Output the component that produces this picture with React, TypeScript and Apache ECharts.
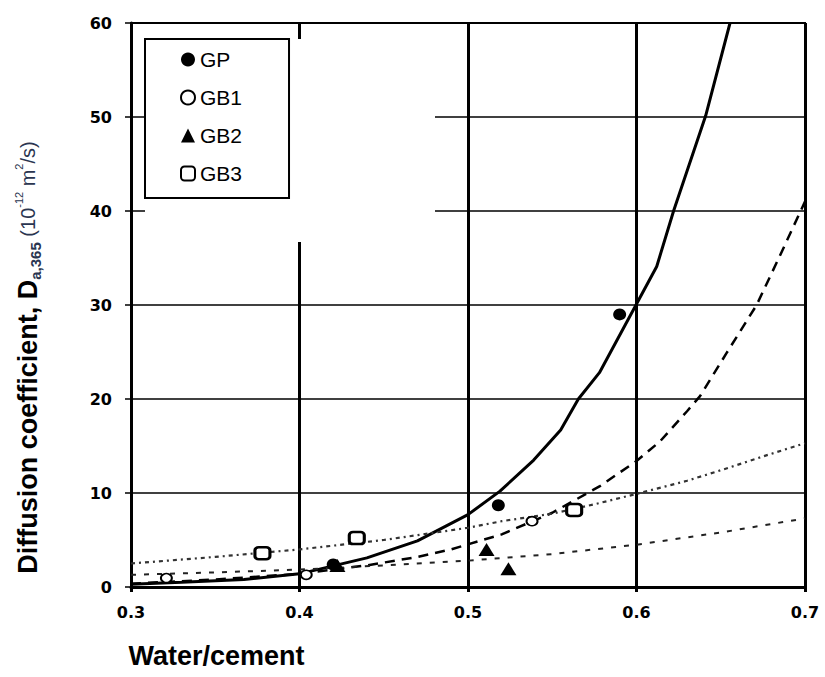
import React, { useEffect, useRef } from "react";
import * as echarts from "echarts";

// ---- Data ----
const legendNames = ["GP", "GB1", "GB2", "GB3"];

// Measured points (water/cement ratio, diffusion coefficient)
const gpPointsW = [0.42, 0.518, 0.59];
const gpPointsD = [2.4, 8.7, 29.0];
const gb1PointsW = [0.321, 0.404, 0.538];
const gb1PointsD = [0.95, 1.3, 7.0];
const gb2PointsW = [0.4225, 0.511, 0.524];
const gb2PointsD = [2.3, 4.0, 1.95];
const gb3PointsW = [0.378, 0.434, 0.563];
const gb3PointsD = [3.6, 5.2, 8.2];

// Fitted curves
const gpFitW = [0.3, 0.33, 0.367, 0.4, 0.4225, 0.44, 0.47, 0.5, 0.519, 0.539, 0.555, 0.5655, 0.578, 0.6, 0.612, 0.622, 0.641, 0.6555];
const gpFitD = [0.3, 0.5, 0.8, 1.4, 2.35, 3.1, 4.9, 7.7, 10.2, 13.5, 16.7, 20.0, 22.8, 30.1, 34.1, 40.0, 50.1, 60.0];
const gb1FitW = [0.3, 0.35, 0.4, 0.44, 0.47, 0.49, 0.52, 0.55, 0.578, 0.6, 0.614, 0.63, 0.6377, 0.6535, 0.6713, 0.685, 0.7];
const gb1FitD = [0.35, 0.8, 1.4, 2.3, 3.2, 4.0, 5.6, 7.9, 10.7, 13.4, 15.5, 18.7, 20.3, 24.9, 30.0, 35.2, 41.0];
const gb2FitW = [0.3, 0.35, 0.4, 0.45, 0.5, 0.55, 0.6, 0.65, 0.7];
const gb2FitD = [1.3, 1.55, 1.85, 2.3, 2.8, 3.5, 4.5, 5.8, 7.3];
const gb3FitW = [0.3, 0.35, 0.4, 0.45, 0.5, 0.52, 0.55, 0.575, 0.6, 0.63, 0.655, 0.677, 0.7];
const gb3FitD = [2.5, 3.2, 4.0, 5.0, 6.3, 7.0, 7.8, 8.8, 9.9, 11.3, 12.7, 14.0, 15.3];

// Axes
const xMin = 0.3;
const xMax = 0.7;
const xStep = 0.1;
const yMin = 0;
const yMax = 60;
const yStep = 10;

const xTitle = "Water/cement";

function pairs(xs: number[], ys: number[]) {
  return xs.map((x, i) => [x, ys[i]]);
}

const ARIAL = "'Liberation Sans', Arial, sans-serif";
const DEJAVU = "'DejaVu Sans', sans-serif";

export default function App() {
  const ref = useRef<HTMLDivElement>(null);

  useEffect(() => {
    if (!ref.current) return;
    const chart = echarts.init(ref.current, null, { renderer: "svg" });

    const fitLine = (name: string, w: number[], d: number[], lineStyle: any) => ({
      type: "line",
      name,
      data: pairs(w, d),
      symbol: "none",
      showSymbol: false,
      smooth: false,
      silent: true,
      z: 2,
      lineStyle,
    });

    const option: any = {
      animation: false,
      backgroundColor: "#fff",
      grid: {
        left: 131,
        top: 23,
        right: 20,
        bottom: 90,
        show: true,
        borderColor: "#000",
        borderWidth: 2,
        backgroundColor: "transparent",
      },
      xAxis: {
        type: "value",
        min: xMin,
        max: xMax,
        interval: xStep,
        name: xTitle,
        nameLocation: "middle",
        nameGap: 55,
        nameTextStyle: {
          fontFamily: ARIAL,
          fontWeight: "bold",
          fontSize: 27,
          color: "#000",
          padding: [0, 503, 0, 0],
        },
        axisLine: { show: true, onZero: false, lineStyle: { color: "#000", width: 3 } },
        axisTick: { show: true, length: 5, lineStyle: { color: "#000", width: 3 } },
        axisLabel: {
          margin: 17,
          fontFamily: DEJAVU,
          fontWeight: "bold",
          fontSize: 16,
          color: "#000",
          formatter: (v: number) => v.toFixed(1),
        },
        splitLine: { show: true, lineStyle: { color: "#000", width: 3 } },
      },
      yAxis: {
        type: "value",
        min: yMin,
        max: yMax,
        interval: yStep,
        name: "{b|Diffusion coefficient, D}{sub|a,365}{u| (10}{sup|-12}{u| m}{sup|2}{u|/s)}",
        nameLocation: "middle",
        nameGap: 88,
        nameTextStyle: {
          padding: [0, 105, 0, 0],
          rich: {
            b: { fontFamily: ARIAL, fontWeight: "bold", fontSize: 27, color: "#000", lineHeight: 30 },
            sub: { fontFamily: ARIAL, fontWeight: "bold", fontSize: 15, color: "#2a3550", lineHeight: 15, verticalAlign: "bottom" },
            u: { fontFamily: ARIAL, fontWeight: "normal", fontSize: 20, color: "#2a3550", lineHeight: 30 },
            sup: { fontFamily: ARIAL, fontWeight: "normal", fontSize: 11, color: "#2a3550", lineHeight: 11, verticalAlign: "top" },
          },
        },
        axisLine: { show: true, lineStyle: { color: "#000", width: 3 } },
        axisTick: { show: true, length: 6, lineStyle: { color: "#000", width: 1.5 } },
        axisLabel: {
          margin: 19,
          fontFamily: DEJAVU,
          fontWeight: "bold",
          fontSize: 16,
          color: "#000",
        },
        splitLine: { show: true, lineStyle: { color: "#000", width: 1.5 } },
      },
      legend: {
        data: legendNames,
        orient: "vertical",
        left: 145,
        top: 39,
        padding: [10, 47, 14, 35],
        itemGap: 17,
        itemWidth: 14,
        itemHeight: 14,
        selectedMode: false,
        backgroundColor: "#fff",
        borderColor: "#000",
        borderWidth: 2,
        z: 10,
        textStyle: { fontFamily: ARIAL, fontSize: 21, color: "#000", lineHeight: 20 },
      },
      graphic: [
        {
          type: "rect",
          z: 3,
          silent: true,
          shape: { x: 145, y: 39, width: 290, height: 203 },
          style: { fill: "#fff" },
        },
      ],
      series: [
        fitLine("GP fit", gpFitW, gpFitD, { color: "#000", width: 3, type: "solid" }),
        fitLine("GB1 fit", gb1FitW, gb1FitD, { color: "#000", width: 2.5, type: [10, 7] }),
        fitLine("GB2 fit", gb2FitW, gb2FitD, { color: "#222", width: 2, type: [5, 8] }),
        fitLine("GB3 fit", gb3FitW, gb3FitD, { color: "#333", width: 2.2, type: [4, 4, 2, 4] }),
        {
          type: "scatter",
          name: "GP",
          data: pairs(gpPointsW, gpPointsD),
          symbol: "circle",
          symbolSize: [13, 12],
          itemStyle: { color: "#000", opacity: 1 },
          z: 4,
        },
        {
          type: "scatter",
          name: "GB1",
          data: pairs(gb1PointsW, gb1PointsD),
          symbol: "circle",
          symbolSize: [11, 9],
          itemStyle: { color: "#fff", borderColor: "#000", borderWidth: 1.8, opacity: 1 },
          z: 4,
        },
        {
          type: "scatter",
          name: "GB2",
          data: pairs(gb2PointsW, gb2PointsD),
          symbol: "triangle",
          symbolSize: [16, 13],
          itemStyle: { color: "#000", opacity: 1 },
          z: 4,
        },
        {
          type: "scatter",
          name: "GB3",
          data: pairs(gb3PointsW, gb3PointsD),
          symbol: "roundRect",
          symbolSize: [15, 12],
          itemStyle: { color: "#fff", borderColor: "#000", borderWidth: 2.8, opacity: 1 },
          z: 4,
        },
      ],
    };

    chart.setOption(option);
    return () => chart.dispose();
  }, []);

  return (
    <div
      ref={ref}
      style={{ position: "fixed", left: 0, top: 0, width: 825, height: 677, background: "#fff" }}
    />
  );
}
